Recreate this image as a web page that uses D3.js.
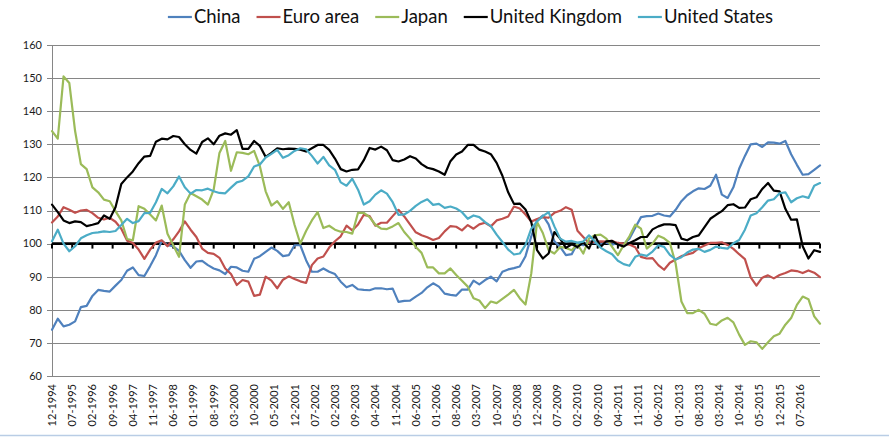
<!DOCTYPE html>
<html>
<head>
<meta http-equiv="Content-Type" content="text/html;charset=utf-8">
<title>Index comparison</title>
<script src="https://d3js.org/d3.v7.min.js"></script>
<style>
  html,body { margin: 0; padding: 0; background: #fff; }
  svg { display: block; font-family: Lato, "Open Sans", sans-serif; }
  .grid line { stroke: #868686; stroke-width: 1px; }
  .series { fill: none; stroke-width: 2.2px; stroke-linejoin: round; stroke-linecap: round; }
  .ylab, .xlab { font-size: 11px; fill: #1a1a1a; }
  .leg text { font-size: 18.5px; fill: #111; }
</style>
</head>
<body>
<script>

// one value every 2 months, starting 12-1994 (month 0) to 02-2017 (month 266)
let monthStep = 2;

let china = [
  74, 77.3, 75, 75.5, 76.5, 80.8, 81.2, 84.2, 86, 85.7,
  85.5, 87.3, 89, 91.8, 92.8, 90.5, 90.2, 93.2, 96.5, 100.8,
  99.5, 99.2, 97.8, 95, 92.7, 94.6, 94.8, 93.5, 92.5, 91.9,
  90.8, 93, 92.8, 91.8, 91.5, 95.4, 96.2, 97.5, 98.8, 97.8,
  96.2, 96.5, 99.5, 99.5, 95, 91.5, 91.5, 92.5, 91.5, 90.8,
  88.5, 86.8, 87.5, 86.2, 86, 85.9, 86.5, 86.5, 86.2, 86.4,
  82.4, 82.7, 82.8, 84, 85.1, 86.8, 88, 87, 84.9, 84.5,
  84.3, 86.1, 86.1, 88.8, 87.7, 89, 90, 88.6, 91.5, 92.2,
  92.6, 93.1, 96.2, 102.2, 107, 108.5, 105.8, 100.7, 99, 96.5,
  96.8, 100.1, 99.5, 100.8, 100.2, 99.8, 100.3, 99.7, 100.2, 99.8,
  101.5, 104.8, 108, 108.3, 108.4, 109.1, 108.5, 108.2, 110.2, 112.8,
  114.6, 115.8, 116.7, 116.5, 117.5, 120.8, 114.8, 113.8, 117, 122.6,
  126.5, 130, 130.2, 129.2, 130.6, 130.5, 130.2, 131, 127, 123.8,
  120.8, 121, 122.3, 123.6
];

let euro = [
  106.4, 108.2, 111, 110.2, 109.3, 110, 110.2, 109.2, 107.8, 107.3,
  107.8, 106.6, 104.5, 100.9, 100.2, 98.2, 95.4, 98.2, 100.3, 101,
  99.2, 101.3, 103.7, 106.7, 104.2, 102, 98.5, 97.2, 96.9, 95.7,
  92.5, 90.8, 87.5, 89, 88.5, 84.2, 84.6, 90, 88.8, 86.5,
  89.1, 90.1, 89.3, 88.6, 88.1, 93.5, 95.5, 96.1, 98.8, 100.7,
  102.2, 105.4, 104, 105.8, 108.7, 108.3, 105.4, 106.3, 106.3, 108.3,
  110.2, 108.2, 105.8, 103.4, 102.5, 101.9, 101.1, 101.7, 103.7, 105.3,
  105.1, 104, 105.6, 104.5, 105.8, 106.3, 105.2, 107, 107.5, 108.2,
  111.2, 110.6, 108.8, 106.7, 107.4, 108, 107.8, 109.3, 109.9, 111,
  110.2, 103.9, 102, 100.2, 100.5, 100.7, 100.6, 100.8, 100.2, 100,
  99.7, 98.9, 96, 95.5, 95.6, 93.5, 92.1, 94.2, 95.2, 96.2,
  96.7, 97.2, 98.6, 99.4, 100.2, 100.2, 100.4, 99.6, 98.4, 96.8,
  95.3, 89.8, 87.3, 89.7, 90.4, 89.5, 90.5, 91.1, 91.9, 91.7,
  91.1, 91.9, 91.2, 89.9
];

let japan = [
  134, 131.7, 150.5, 148.5, 134, 124, 122.5, 117, 115.5, 113.3,
  112.8, 109.8, 107, 101.4, 101, 111.3, 110.5, 108.8, 107, 111.5,
  103, 99.5, 96, 111.8, 115.3, 114.3, 113.3, 111.8, 116.3, 127.4,
  131, 122, 127.6, 127.4, 127, 128, 123.4, 115.8, 111.5, 112.8,
  110.5, 112.5, 105.7, 100, 103.8, 107, 109.5, 104.7, 105.4, 104.2,
  103.6, 103.5, 103, 109.3, 109.3, 108, 105.7, 104.5, 104.4, 105.2,
  106.2, 103.5, 101.5, 99, 97.2, 92.8, 92.8, 91, 91, 92.5,
  90.5, 88.8, 87, 83.5, 82.8, 80.5, 82.5, 82, 83.3, 84.6,
  86, 83.5, 81.6, 91, 106.5, 103.2, 98, 97, 99, 98.7,
  98, 99.8, 97, 101.5, 102.5, 102.7, 101.5, 99, 96.5, 99.5,
  102.2, 105.7, 104.5, 98.5, 100, 102.4, 101.6, 100.2, 94, 82.5,
  79, 79, 80, 78.8, 75.8, 75.4, 76.8, 77.6, 76.2, 72.5,
  69.4, 70.5, 70.2, 68.2, 70.2, 72, 72.8, 75.5, 77.5, 81.5,
  84, 83.2, 78, 75.8
];

let uk = [
  111.8, 109.5, 107, 106.2, 106.7, 106.5, 105.3, 105.7, 106.2, 108.5,
  107.5, 111, 118, 120, 121.8, 124.3, 126.3, 126.5, 130.8, 131.7,
  131.5, 132.5, 132.2, 130, 128.3, 127.2, 130.7, 131.8, 130, 132.6,
  133.3, 132.9, 134.3, 128.6, 128.6, 131, 129.5, 126.2, 127.4, 128.8,
  128.5, 128.7, 128.6, 128.4, 127.8, 128.8, 129.8, 129.8, 128.3, 125.7,
  122.5, 121.8, 122.3, 122.4, 125.2, 128.9, 128.4, 129.3, 128.2, 125.2,
  124.8, 125.4, 126.4, 125.7, 124, 122.9, 122.5, 121.8, 120.8, 124.9,
  126.9, 127.8, 129.8, 129.8, 128.4, 127.8, 127, 124.4, 120.5, 115.5,
  112, 112.1, 110.3, 106.5, 98, 95.5, 97, 103.5, 101.5, 98.7,
  99.8, 99, 100.3, 98.5, 102.5, 99, 100.7, 100.8, 99.7, 99.1,
  100.2, 101, 102, 102, 104.3, 105.2, 105.8, 105.8, 105.6, 101.5,
  101, 102, 102.5, 105, 107.5, 108.7, 109.8, 111.6, 111.9, 110.8,
  110.9, 113.4, 114, 116.5, 118.3, 116, 115.8, 110.5, 107.2, 107.3,
  99.2, 95.5, 98, 97.5
];

let us = [
  100.7, 104.2, 100, 97.7, 99.2, 101.6, 102.5, 103.2, 103.4, 103.7,
  103.5, 103.8, 105.6, 107.5, 106.2, 106.8, 109.2, 109.3, 112.5, 116.5,
  115.2, 117.3, 120.3, 117, 115.1, 116.2, 116.1, 116.6, 115.8, 115.3,
  115.2, 116.9, 118.5, 119, 120.3, 123.3, 123.9, 126, 127.1, 128.3,
  125.9, 126.7, 128, 128.8, 128.5, 126.5, 124.2, 126.2, 123.6, 122.3,
  118.5, 117.5, 119.6, 116.3, 111.8, 112.8, 114.8, 116.1, 115.1, 112.5,
  108.7, 108.8, 109.9, 111.4, 112.6, 113.4, 111.7, 112, 110.8, 111.2,
  110.6, 109.5, 107.5, 108.5, 108, 106.5, 105.3, 102.7, 100.5, 98.2,
  96.7, 97, 99.6, 104.5, 106.7, 108.3, 109.5, 105.2, 101.5, 100.6,
  100.8, 100.3, 100.6, 102.5, 100.7, 98.8, 97.7, 96.8, 94.8, 93.8,
  93.3, 96, 96.7, 96.3, 97.6, 99.5, 99, 96.6, 95.2, 95.9,
  97.3, 98.2, 98.4, 97.5, 98.1, 99.1, 98.7, 98.5, 100.1, 101.1,
  104.2, 108.5, 109.2, 111, 113, 113.4, 115.2, 115.5, 112.5, 113.7,
  114.3, 113.8, 117.5, 118.3
];

let seriesNames = ["China", "Euro area", "Japan", "United Kingdom", "United States"];
let seriesColors = ["#4f81bd", "#c0504d", "#9bbb59", "#000000", "#4bacc6"];
let seriesValues = [china, euro, japan, uk, us];

// category labels, one every 7 months
let tickLabels = [
  "12-1994", "07-1995", "02-1996", "09-1996", "04-1997", "11-1997", "06-1998",
  "01-1999", "08-1999", "03-2000", "10-2000", "05-2001", "12-2001", "07-2002",
  "02-2003", "09-2003", "04-2004", "11-2004", "06-2005", "01-2006", "08-2006",
  "03-2007", "10-2007", "05-2008", "12-2008", "07-2009", "02-2010", "09-2010",
  "04-2011", "11-2011", "06-2012", "01-2013", "08-2013", "03-2014", "10-2014",
  "05-2015", "12-2015", "07-2016"
];
let tickEvery = 7;
let lastMonth = 266;
let yTicks = [60, 70, 80, 90, 100, 110, 120, 130, 140, 150, 160];

let W = 889, H = 437;
let plotLeft = 52, plotRight = 820, plotTop = 45, plotBottom = 376;

let x = d3.scaleLinear().domain([0, lastMonth]).range([plotLeft, plotRight]);
let y = d3.scaleLinear().domain([60, 160]).range([plotBottom, plotTop]);

let svg = d3.select("body").append("svg")
  .attr("width", W)
  .attr("height", H);

// gridlines
svg.append("g").attr("class", "grid")
  .selectAll("line").data(yTicks).enter().append("line")
  .attr("x1", plotLeft - 5).attr("x2", plotRight)
  .attr("y1", d => Math.round(y(d)) + 0.5)
  .attr("y2", d => Math.round(y(d)) + 0.5);

// value axis
svg.append("line")
  .attr("x1", plotLeft + 0.5).attr("x2", plotLeft + 0.5)
  .attr("y1", plotTop).attr("y2", plotBottom)
  .attr("stroke", "#868686");

svg.append("g").selectAll("text").data(yTicks).enter().append("text")
  .attr("class", "ylab")
  .attr("x", plotLeft - 10)
  .attr("y", d => y(d))
  .attr("dy", "0.35em")
  .attr("text-anchor", "end")
  .text(d => d);

// category labels, low position
svg.append("g").selectAll("text").data(tickLabels).enter().append("text")
  .attr("class", "xlab")
  .attr("transform", (d, i) => "translate(" + (x(i * tickEvery) + 4) + "," + (plotBottom + 8) + ") rotate(-90)")
  .attr("text-anchor", "end")
  .text(d => d);

// category axis crosses at 100
let axisTicks = d3.range(0, lastMonth + 1, tickEvery);
if (axisTicks[axisTicks.length - 1] != lastMonth) axisTicks.push(lastMonth);

svg.append("line")
  .attr("x1", plotLeft).attr("x2", plotRight)
  .attr("y1", y(100)).attr("y2", y(100))
  .attr("stroke", "#000").attr("stroke-width", 2.6);

svg.append("g").selectAll("line").data(axisTicks).enter().append("line")
  .attr("x1", d => x(d)).attr("x2", d => x(d))
  .attr("y1", y(100)).attr("y2", y(100) + 5)
  .attr("stroke", "#000").attr("stroke-width", 2);

// series
let lineFunction = d3.line()
  .x((d, i) => x(i * monthStep))
  .y(d => y(d));

svg.append("g").selectAll("path").data(seriesValues).enter().append("path")
  .attr("class", "series")
  .attr("stroke", (d, i) => seriesColors[i])
  .attr("d", d => lineFunction(d));

// legend
let leg = svg.append("g").attr("class", "leg");
let cx = 0;
let legGap = 16;
seriesNames.forEach(function(name, i) {
  let item = leg.append("g").attr("transform", "translate(" + cx + ",0)");
  item.append("line")
    .attr("x1", 0).attr("x2", 24)
    .attr("y1", 0).attr("y2", 0)
    .attr("stroke", seriesColors[i]).attr("stroke-width", 2.2);
  let t = item.append("text")
    .attr("x", 26).attr("dy", "0.35em")
    .text(name);
  cx += 26 + t.node().getComputedTextLength() + legGap;
});
cx -= legGap;
leg.attr("transform", "translate(" + (470.5 - cx / 2) + ",17)");

// frame edge at the bottom
svg.append("line")
  .attr("x1", 0).attr("x2", W)
  .attr("y1", H - 1.5).attr("y2", H - 1.5)
  .attr("stroke", "#b9cde5").attr("stroke-width", 1.5);

</script>
</body>
</html>
